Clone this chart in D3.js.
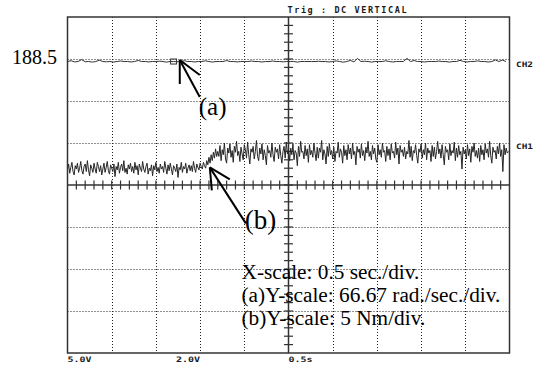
<!DOCTYPE html>
<html>
<head>
<meta charset="utf-8">
<script src="https://cdn.jsdelivr.net/npm/d3@7"></script>
<style>
  html, body { margin: 0; padding: 0; background: #fff; }
  svg { display: block; }
</style>
</head>
<body>
<svg id="scope" width="539" height="367"></svg>
<script>
// ---- Channel settings ----
const secPerDiv = 0.5;          // X-scale, s/div
const torquePerDiv = 5;         // CH1, Nm/div
const speedPerDiv = 66.67;      // CH2, rad/s/div
const speedOffset = -7.5;       // CH2 value at screen centre, rad/s
const refSpeed = 188.5;         // rad/s

// ---- CH1: shaft torque (Nm), one sample every 12.5 ms ----
const torqueInterval = 0.0125;
const torqueCH1 = [
  // before the load step
  1.8, 2.5, 1.4, 2.1, 2.7, 1.6, 1.2, 2.3, 1.9, 2.6,
  1.5, 2.0, 2.8, 1.7, 1.3, 2.2, 2.5, 1.6, 2.9, 1.8,
  1.1, 2.4, 2.0, 1.5, 2.6, 1.9, 1.4, 2.7, 2.2, 1.6,
  2.3, 1.2, 1.9, 2.6, 1.5, 2.1, 2.8, 1.7, 1.3, 2.4,
  2.0, 1.6, 2.5, 1.0, 2.2, 1.8, 2.7, 1.4, 2.1, 2.5,
  1.7, 2.9, 1.5, 2.0, 1.3, 2.4, 1.9, 2.6, 1.6, 2.2,
  1.4, 2.7, 1.8, 2.3, 1.2, 2.5, 2.0, 1.6, 2.8, 1.9,
  1.5, 2.2, 2.6, 1.3, 2.0, 1.7, 2.4, 1.1, 2.3, 1.8,
  2.7, 1.6, 2.1, 1.4, 2.5, 1.9, 2.2, 1.5, 2.8, 2.0,
  1.3, 2.4, 1.7, 2.6, 1.9, 1.2, 2.3, 2.0, 1.6, 2.5,
  0.9, 2.1, 1.8, 2.7, 1.5, 2.2, 1.9, 2.6, 1.4, 2.0,
  2.4, 1.7, 2.3, 1.6, 2.8, 2.0, 1.5, 2.5, 2.1, 1.8,
  2.6, 2.2, 1.9, 2.7, 2.3,
  // step
  2.0, 2.9, 2.4, 3.3, 2.6, 3.6, 2.9, 3.9, 3.2, 4.3, 3.4, 4.0,
  // after the load step
  3.4, 4.7, 2.9, 4.2, 3.6, 5.0, 3.1, 2.6, 4.4, 3.8,
  4.9, 3.3, 4.1, 2.7, 4.6, 3.9, 5.2, 3.5, 4.0, 2.8,
  4.5, 3.7, 3.0, 4.8, 4.2, 3.2, 5.1, 3.6, 2.5, 4.3,
  3.9, 4.6, 3.1, 4.0, 5.3, 3.4, 2.9, 4.4, 3.7, 4.9,
  3.0, 4.2, 3.5, 2.4, 4.7, 3.8, 4.1, 3.3, 5.0, 3.6,
  2.8, 4.5, 3.9, 4.3, 3.1, 4.8, 3.5, 2.6, 4.0, 4.6,
  3.2, 5.1, 3.7, 4.2, 2.9, 4.4, 3.6, 4.9, 3.0, 4.1,
  3.8, 2.3, 4.6, 3.4, 5.2, 3.9, 4.0, 3.1, 4.7, 3.5,
  4.3, 2.7, 4.8, 3.6, 4.1, 3.3, 5.0, 3.8, 2.9, 4.5,
  3.2, 4.4, 3.9, 5.3, 3.0, 4.2, 3.7, 2.5, 4.6, 3.4,
  4.9, 3.6, 4.1, 3.1, 4.5, 2.8, 4.0, 3.8, 5.1, 3.3,
  4.3, 3.9, 2.6, 4.7, 3.5, 4.2, 3.0, 4.8, 3.7, 4.4,
  3.1, 5.0, 3.6, 4.0, 2.4, 4.6, 3.9, 4.3, 3.2, 4.9,
  3.5, 4.1, 2.9, 4.5, 3.8, 5.2, 3.4, 4.0, 3.0, 4.7,
  3.7, 4.4, 3.1, 2.7, 4.8, 3.6, 4.2, 3.3, 5.0, 3.9,
  4.1, 2.8, 4.6, 3.5, 4.3, 3.0, 4.9, 3.8, 4.0, 3.2,
  5.1, 3.6, 4.4, 2.5, 4.7, 3.9, 4.2, 3.4, 4.5, 3.1,
  4.0, 3.7, 5.3, 3.3, 4.6, 2.9, 4.1, 3.8, 4.8, 3.5,
  2.6, 4.3, 3.9, 4.9, 3.2, 4.2, 3.6, 5.0, 3.0, 4.4,
  3.8, 4.1, 2.8, 4.7, 3.4, 4.5, 3.1, 4.0, 5.2, 3.7,
  4.3, 3.2, 4.8, 3.6, 2.4, 4.6, 3.9, 4.2, 3.0, 4.9,
  3.5, 4.1, 3.8, 5.1, 2.9, 4.4, 3.3, 4.7, 3.6, 4.0,
  1.9, 4.5, 3.7, 4.2, 3.1, 4.8, 3.5, 4.3, 2.7, 4.6,
  3.9, 5.0, 3.4, 4.1, 3.2, 4.4, 2.8, 4.7, 3.6, 4.2,
  3.0, 4.9, 3.8, 4.3, 3.3, 5.2, 3.5, 2.6, 4.5, 3.9,
  4.1, 3.1, 4.6, 3.7, 5.0, 3.4, 4.2, 1.6, 4.8, 3.6,
  4.4, 3.8, 4.0
];

// ---- CH2: rotor speed (rad/s), one sample every 40 ms ----
const speedInterval = 0.04;
const speedCH2 = [
  188.5, 189.8, 187.9, 188.5, 191.5, 188.2, 188.5, 187.6, 188.5, 190.6,
  188.5, 188.1, 188.5, 187.7, 188.5, 189.4, 188.5, 188.5, 187.8, 188.5,
  190.2, 188.5, 188.5, 187.9, 188.5, 188.5, 189.1, 188.5, 187.5, 188.5,
  188.5, 188.2, 188.5, 189.8, 188.5, 188.5, 187.8, 188.5, 188.5, 189.6,
  188.5, 187.6, 188.5, 188.5, 188.5, 190.0, 188.5, 188.5, 187.9, 188.5,
  188.5, 188.5, 189.3, 188.5, 188.5, 187.7, 188.5, 188.5, 189.3, 188.5,
  188.5, 188.0, 188.5, 188.5, 188.5, 187.6, 188.5, 188.5, 188.5, 188.5,
  188.5, 188.9, 188.5, 188.5, 187.8, 188.5, 189.5, 188.5, 187.5, 188.5,
  190.3, 187.9, 193.4, 188.5, 189.0, 188.5, 187.6, 188.5, 188.5, 188.5,
  189.7, 188.5, 187.8, 188.5, 188.5, 188.5, 193.6, 188.5, 190.1, 188.5,
  188.5, 187.7, 188.5, 188.5, 188.5, 189.2, 188.5, 188.5, 187.6, 188.5,
  188.5, 190.4, 188.5, 187.8, 188.5, 188.5, 189.6, 188.5, 188.5, 187.7,
  188.5, 191.0, 188.5, 190.8, 188.5
];

// ---- Annotated points ----
const markerTime = 1.2;         // cursor box on CH2, s
const arrowA = { t: 1.27, speed: refSpeed, label: "(a)" };
const arrowB = { t: 1.61, torque: 2.1, label: "(b)" };

// ---- Text ----
const headerText = "Trig : DC VERTICAL";
const channelNames = ["CH2", "CH1"];
const footLabels = ["5.0V", "2.0V", "0.5s"];
const readoutLines = [
  "X-scale: 0.5 sec./div.",
  "(a)Y-scale: 66.67 rad./sec./div.",
  "(b)Y-scale: 5 Nm/div."
];

// ---- Layout ----
const frame = { left: 67.5, right: 509.5, top: 17, bottom: 353 };
const divsX = 10, divsY = 8;
const ink = "#1a1a1a";
const serif = "'Liberation Serif', 'Times New Roman', serif";
const mono = "'DejaVu Sans Mono', monospace";

const svg = d3.select("#scope");

const x = d3.scaleLinear().domain([0, divsX * secPerDiv]).range([frame.left, frame.right]);
const yTorque = d3.scaleLinear()
  .domain([-divsY / 2 * torquePerDiv, divsY / 2 * torquePerDiv])
  .range([frame.bottom, frame.top]);
const ySpeed = d3.scaleLinear()
  .domain([speedOffset - divsY / 2 * speedPerDiv, speedOffset + divsY / 2 * speedPerDiv])
  .range([frame.bottom, frame.top]);

const xMid = x(divsX / 2 * secPerDiv);
const yMid = yTorque(0);

// Dotted graticule
const grid = svg.append("g")
  .attr("stroke", "#222").attr("stroke-width", 1).attr("stroke-dasharray", "1,2");
grid.selectAll("line.v")
  .data(d3.range(1, divsX).filter(i => i !== divsX / 2))
  .join("line").attr("class", "v")
  .attr("x1", i => Math.round(x(i * secPerDiv)) + 0.5)
  .attr("x2", i => Math.round(x(i * secPerDiv)) + 0.5)
  .attr("y1", frame.top).attr("y2", frame.bottom);
grid.selectAll("line.h")
  .data(d3.range(1, divsY).filter(j => j !== divsY / 2))
  .join("line").attr("class", "h")
  .attr("y1", j => Math.round(yTorque((j - divsY / 2) * torquePerDiv)) + 0.5)
  .attr("y2", j => Math.round(yTorque((j - divsY / 2) * torquePerDiv)) + 0.5)
  .attr("x1", frame.left).attr("x2", frame.right);

// Centre axes with fifth-division ticks
const axes = svg.append("g").attr("stroke", "#333").attr("stroke-width", 1.5);
axes.append("line").attr("x1", xMid).attr("x2", xMid).attr("y1", frame.top).attr("y2", frame.bottom);
axes.append("line").attr("x1", frame.left).attr("x2", frame.right).attr("y1", yMid).attr("y2", yMid);
axes.selectAll("line.tx")
  .data(d3.range(1, divsX * 5))
  .join("line").attr("class", "tx").attr("stroke-width", 1.2)
  .attr("x1", k => x(k * secPerDiv / 5)).attr("x2", k => x(k * secPerDiv / 5))
  .attr("y1", yMid - 4.5).attr("y2", yMid + 4.5);
axes.selectAll("line.ty")
  .data(d3.range(1, divsY * 5))
  .join("line").attr("class", "ty").attr("stroke-width", 1.2)
  .attr("y1", k => yTorque((k / 5 - divsY / 2) * torquePerDiv))
  .attr("y2", k => yTorque((k / 5 - divsY / 2) * torquePerDiv))
  .attr("x1", xMid - 4.5).attr("x2", xMid + 4.5);

// Traces
const torqueLine = d3.line()
  .x((d, i) => x(i * torqueInterval))
  .y(d => yTorque(d));
svg.append("path").datum(torqueCH1)
  .attr("fill", "none").attr("stroke", "#262626").attr("stroke-width", 1)
  .attr("d", torqueLine);

const speedLine = d3.line()
  .x((d, i) => x(i * speedInterval))
  .y(d => ySpeed(d));
svg.append("path").datum(speedCH2)
  .attr("fill", "none").attr("stroke", "#333").attr("stroke-width", 1)
  .attr("d", speedLine);

// Cursor box on CH2
svg.append("rect")
  .attr("x", x(markerTime) - 3).attr("y", ySpeed(refSpeed) - 2.5)
  .attr("width", 6).attr("height", 5)
  .attr("fill", "none").attr("stroke", "#333").attr("stroke-width", 1);

// Frame
svg.append("rect")
  .attr("x", frame.left).attr("y", frame.top)
  .attr("width", frame.right - frame.left).attr("height", frame.bottom - frame.top)
  .attr("fill", "none").attr("stroke", "#333").attr("stroke-width", 1.5);

// Scope status text
svg.append("text")
  .attr("x", xMid - 1).attr("y", 13)
  .attr("font-family", mono).attr("font-weight", "bold").attr("font-size", 8.5)
  .attr("textLength", 119).attr("lengthAdjust", "spacing")
  .attr("fill", ink).text(headerText);

svg.selectAll("text.ch")
  .data(channelNames)
  .join("text").attr("class", "ch")
  .attr("x", frame.right + 6.5)
  .attr("y", (d, i) => i === 0 ? ySpeed(refSpeed) + 5 : yTorque(4.4) + 1)
  .attr("font-family", mono).attr("font-weight", "bold").attr("font-size", 7.5)
  .attr("textLength", 17).attr("lengthAdjust", "spacingAndGlyphs")
  .attr("fill", ink).text(d => d);

const footX = [x(0), x(3 * secPerDiv), xMid];
const footAnchor = ["start", "end", "start"];
svg.selectAll("text.foot")
  .data(footLabels)
  .join("text").attr("class", "foot")
  .attr("x", (d, i) => footX[i]).attr("y", 361.5)
  .attr("text-anchor", (d, i) => footAnchor[i])
  .attr("font-family", mono).attr("font-weight", "bold").attr("font-size", 7.5)
  .attr("textLength", 24).attr("lengthAdjust", "spacingAndGlyphs")
  .attr("fill", ink).text(d => d);

// Reference speed label
svg.append("text")
  .attr("x", 12).attr("y", 64)
  .attr("font-family", serif).attr("font-size", 20)
  .attr("fill", "#000").text(String(refSpeed));

// Arrows pointing at the traces
function arrow(tx, ty, tail, headA, headB, label, labelPos, size) {
  const g = svg.append("g").attr("stroke", "#000").attr("stroke-width", 2).attr("fill", "none");
  g.append("line").attr("x1", tx).attr("y1", ty).attr("x2", tx + tail[0]).attr("y2", ty + tail[1]);
  g.append("line").attr("x1", tx).attr("y1", ty).attr("x2", tx + headA[0]).attr("y2", ty + headA[1]);
  g.append("line").attr("x1", tx).attr("y1", ty).attr("x2", tx + headB[0]).attr("y2", ty + headB[1]);
  svg.append("text")
    .attr("x", tx + labelPos[0]).attr("y", ty + labelPos[1])
    .attr("font-family", serif).attr("font-size", size)
    .attr("fill", "#000").text(label);
}
arrow(x(arrowA.t), ySpeed(arrowA.speed) - 1.5, [20, 37], [0, 24], [20, 15], arrowA.label, [19, 55], 25);
arrow(x(arrowB.t), yTorque(arrowB.torque), [36, 56], [2, 23], [20, 12], arrowB.label, [35, 62], 27);

// Scale readout
svg.selectAll("text.readout")
  .data(readoutLines)
  .join("text").attr("class", "readout")
  .attr("x", 241.5).attr("y", (d, i) => 279 + i * 23.2)
  .attr("font-family", serif).attr("font-size", 21.3)
  .attr("fill", "#000").text(d => d);
</script>
</body>
</html>
